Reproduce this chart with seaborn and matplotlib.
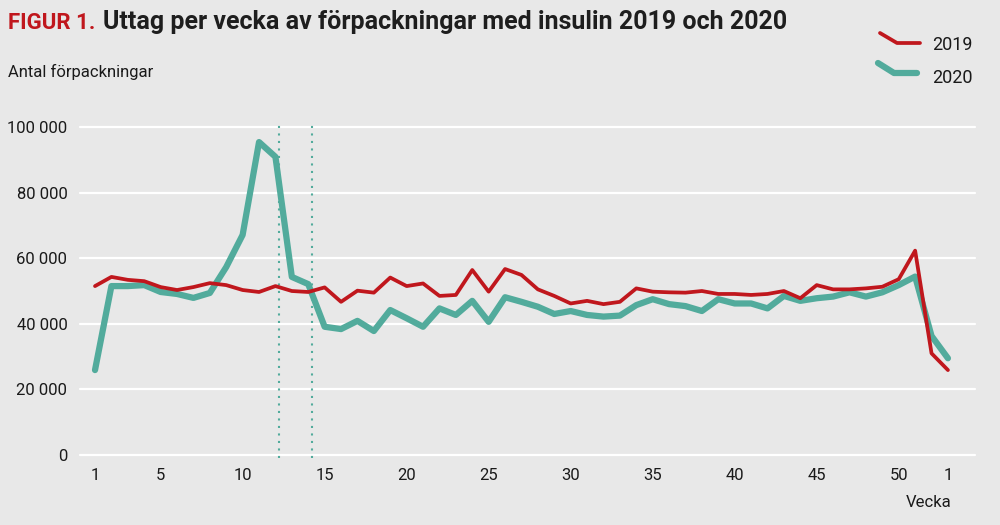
import matplotlib
matplotlib.use('Agg')
import numpy as np
import pandas as pd
import matplotlib.pyplot as plt
import seaborn as sns
from matplotlib.lines import Line2D

# veckor 1-52 plus vecka 1 nästa år (position 53)
weeks = list(range(1, 54))
tick_pos = [1, 5, 10, 15, 20, 25, 30, 35, 40, 45, 50, 53]
tick_lab = ['1', '5', '10', '15', '20', '25', '30', '35', '40', '45', '50', '1']
y_ticks = [0, 20000, 40000, 60000, 80000, 100000]
markers_weeks = [12.2, 14.2]

uttag_2019 = [51500, 54300, 53400, 53000, 51200, 50300, 51200, 52400, 51800, 50300,
              49700, 51500, 50000, 49700, 51100, 46700, 50100, 49500, 54100, 51500,
              52300, 48500, 48800, 56400, 49800, 56700, 54900, 50500, 48500, 46200,
              47000, 46000, 46700, 50800, 49800, 49600, 49500, 50000, 49100, 49100,
              48800, 49100, 50000, 47800, 51800, 50500, 50500, 50800, 51300, 53600,
              62300, 31000, 25900]
uttag_2020 = [25900, 51500, 51500, 51800, 49700, 49100, 47900, 49400, 57300, 67100,
              95400, 90900, 54300, 52100, 39100, 38400, 40900, 37800, 44200, 41700,
              39100, 44700, 42700, 47000, 40600, 48100, 46700, 45200, 43000, 43900,
              42700, 42200, 42500, 45700, 47500, 46000, 45400, 43900, 47500, 46200,
              46200, 44700, 48500, 47000, 47800, 48300, 49600, 48300, 49600, 51800,
              54400, 36300, 29500]

RED = '#c0171d'
TEAL = '#52ab9c'
BG = '#e8e8e8'
FONT = ['Roboto', 'DejaVu Sans']

sns.set_style('white')
plt.rcParams['font.family'] = FONT

fig = plt.figure(figsize=(10, 5.25), dpi=100, facecolor=BG)
ax = fig.add_axes([0.08, 0.127, 0.895, 0.6374])
ax.set_facecolor(BG)

for y in y_ticks:
    ax.axhline(y, color='white', lw=1.6, zorder=0, clip_on=False)
for w in markers_weeks:
    ax.axvline(w, color=TEAL, lw=1.5, ls=(0, (1, 2.6)), zorder=1)

sns.lineplot(x=weeks, y=uttag_2020, color=TEAL, lw=4.5, ax=ax, zorder=3)
sns.lineplot(x=weeks, y=uttag_2019, color=RED, lw=2.7, ax=ax, zorder=4)

ax.set_xlim(0.085, 54.65)
ax.set_ylim(-1000, 101000)
ax.set_xticks(tick_pos)
ax.set_xticklabels(tick_lab)
ax.set_yticks(y_ticks)
ax.set_yticklabels([f'{v:,}'.replace(',', ' ') for v in y_ticks])
ax.tick_params(axis='both', length=0, labelsize=12, colors='#1a1a1a')
ax.tick_params(axis='x', pad=7)
ax.tick_params(axis='y', pad=9)
for s in ax.spines.values():
    s.set_visible(False)
ax.set_xlabel('')
ax.set_ylabel('')

fig.text(0.008, 0.945, 'FIGUR 1.', color=RED, fontsize=16, fontweight='bold',
         va='baseline')
fig.text(0.103, 0.945, 'Uttag per vecka av förpackningar med insulin 2019 och 2020',
         color='#1e1e1e', fontsize=18, fontweight='bold', va='baseline')
fig.text(0.008, 0.853, 'Antal förpackningar', color='#1a1a1a', fontsize=12,
         va='baseline')
fig.text(0.952, 1-507/525, 'Vecka', color='#1a1a1a', fontsize=12, ha='right',
         va='baseline')

# legend glyphs with a bend, as in the original
H = 525.0
fig.add_artist(Line2D([880/1000, 897/1000, 920/1000], [1-33/H, 1-43/H, 1-43/H],
                      color=RED, lw=2.7, transform=fig.transFigure))
fig.add_artist(Line2D([878/1000, 894/1000, 917/1000], [1-63/H, 1-73/H, 1-73/H],
                      color=TEAL, lw=4.5, transform=fig.transFigure,
                      solid_capstyle='round'))
fig.text(0.932, 1-50/H, '2019', fontsize=13, color='#1a1a1a', va='baseline')
fig.text(0.932, 1-83/H, '2020', fontsize=13, color='#1a1a1a', va='baseline')

fig.savefig('out.png', dpi=100, facecolor=BG)
